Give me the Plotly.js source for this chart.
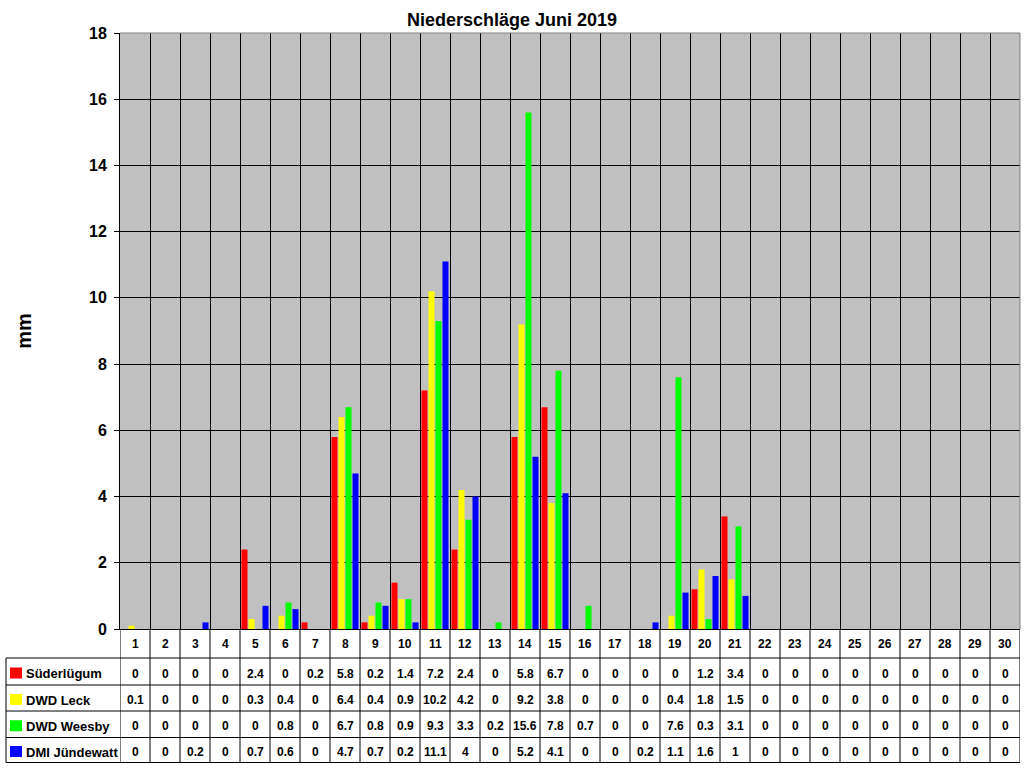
<!DOCTYPE html>
<html>
<head>
<meta charset="utf-8">
<script src="https://cdn.plot.ly/plotly-3.0.1.min.js"></script>
<style>
  body { margin: 0; background: #fff; }
  #chart { width: 1024px; height: 768px; }
</style>
</head>
<body>
<div id="chart"></div>
<script>
// Tage im Juni
const days = [];
for (let d = 1; d <= 30; d++) days.push(d);

// Niederschlag in mm je Station
const suederluegum = [0, 0, 0, 0, 2.4, 0, 0.2, 5.8, 0.2, 1.4, 7.2, 2.4, 0, 5.8, 6.7, 0, 0, 0, 0, 1.2, 3.4, 0, 0, 0, 0, 0, 0, 0, 0, 0];
const dwdLeck = [0.1, 0, 0, 0, 0.3, 0.4, 0, 6.4, 0.4, 0.9, 10.2, 4.2, 0, 9.2, 3.8, 0, 0, 0, 0.4, 1.8, 1.5, 0, 0, 0, 0, 0, 0, 0, 0, 0];
const dwdWeesby = [0, 0, 0, 0, 0, 0.8, 0, 6.7, 0.8, 0.9, 9.3, 3.3, 0.2, 15.6, 7.8, 0.7, 0, 0, 7.6, 0.3, 3.1, 0, 0, 0, 0, 0, 0, 0, 0, 0];
const dmiJuendewatt = [0, 0, 0.2, 0, 0.7, 0.6, 0, 4.7, 0.7, 0.2, 11.1, 4, 0, 5.2, 4.1, 0, 0, 0.2, 1.1, 1.6, 1, 0, 0, 0, 0, 0, 0, 0, 0, 0];

const stationNames = ["Süderlügum", "DWD Leck", "DWD Weesby", "DMI Jündewatt"];
const stationColors = ["#ff0000", "#ffff00", "#00ff00", "#0000ff"];
const stationValues = [suederluegum, dwdLeck, dwdWeesby, dmiJuendewatt];

const FONT = "Liberation Sans, Arial, sans-serif";

// Pixel -> paper (Plotbereich von y=33 bis y=629)
const plotBottom = 629, plotH = 596;
const py = (Y) => (plotBottom - Y) / plotH;
const px = (X) => (X - 120) / 900;

let data = [];
for (let i = 0; i < stationNames.length; i++) {
  data.push({
    x: days,
    y: stationValues[i],
    type: "bar",
    name: stationNames[i],
    marker: { color: stationColors[i], line: { width: 0 } },
    hoverinfo: "x+y+name"
  });
}

let annotations = [];
let shapes = [];

// Kopfzeile mit Tagen
for (let d of days) {
  annotations.push({
    x: d, y: py(644), xref: "x", yref: "paper",
    xanchor: "center", yanchor: "middle",
    text: String(d), showarrow: false,
    font: { family: FONT, size: 12, color: "#000", weight: "bold" }
  });
}

// Datenzeilen
const rowLines = [658, 685, 711, 737.5, 762.5];
for (let i = 0; i < stationNames.length; i++) {
  let cy = (rowLines[i] + rowLines[i + 1]) / 2 + 2;
  annotations.push({
    x: px(24), y: py(cy), xref: "paper", yref: "paper",
    xanchor: "left", yanchor: "middle", text: stationNames[i], showarrow: false,
    font: { family: FONT, size: 13, color: "#000", weight: "bold" }
  });
  shapes.push({
    type: "rect", xref: "paper", yref: "paper",
    x0: px(10), x1: px(22), y0: py(cy - 6), y1: py(cy + 5),
    fillcolor: stationColors[i], line: { width: 0 }
  });
  for (let j = 0; j < days.length; j++) {
    annotations.push({
      x: days[j], y: py(cy), xref: "x", yref: "paper",
      xanchor: "center", yanchor: "middle",
      text: String(stationValues[i][j]), showarrow: false,
      font: { family: FONT, size: 12, color: "#000", weight: "bold" }
    });
  }
}

// Tabellenlinien
for (let Y of rowLines) {
  shapes.push({
    type: "line", xref: "paper", yref: "paper",
    x0: px(6), x1: 1, y0: py(Y), y1: py(Y),
    line: { color: "#000", width: 1 }
  });
}
shapes.push({
  type: "line", xref: "paper", yref: "paper",
  x0: px(6), x1: px(6), y0: py(658), y1: py(762.5),
  line: { color: "#000", width: 1 }
});
for (let d = 0; d <= days.length; d++) {
  shapes.push({
    type: "line", xref: "x", yref: "paper",
    x0: d + 0.5, x1: d + 0.5, y0: 0, y1: py(762.5),
    line: { color: "#000", width: 1 }
  });
}
// Rahmen oben/rechts
shapes.push({
  type: "line", xref: "paper", yref: "paper",
  x0: 0, x1: 1, y0: 1, y1: 1, line: { color: "#808080", width: 1 }
});
shapes.push({
  type: "line", xref: "paper", yref: "paper",
  x0: 1, x1: 1, y0: 0, y1: 1, line: { color: "#808080", width: 1 }
});

const halfTicks = [];
for (let d = 0; d <= days.length; d++) halfTicks.push(d + 0.5);

const layout = {
  width: 1024,
  height: 768,
  margin: { l: 120, r: 4, t: 33, b: 139 },
  paper_bgcolor: "#ffffff",
  plot_bgcolor: "#c0c0c0",
  showlegend: false,
  barmode: "group",
  bargap: 0.067,
  bargroupgap: 0.14,
  title: {
    text: "Niederschläge Juni 2019",
    x: 0.5, xanchor: "center", y: 0.974, yanchor: "middle",
    font: { family: FONT, size: 18, color: "#000", weight: "bold" }
  },
  xaxis: {
    range: [0.5, 30.5],
    tickvals: halfTicks,
    showticklabels: false,
    ticks: "",
    showgrid: true,
    gridcolor: "#000",
    gridwidth: 1,
    zeroline: false,
    showline: true,
    linecolor: "#000",
    fixedrange: true
  },
  yaxis: {
    range: [0, 18],
    dtick: 2,
    tick0: 0,
    ticks: "outside",
    ticklen: 5,
    tickcolor: "#000",
    ticklabelstandoff: 4,
    showgrid: true,
    gridcolor: "#000",
    gridwidth: 1,
    zeroline: false,
    showline: true,
    linecolor: "#000",
    tickfont: { family: FONT, size: 16, color: "#000", weight: "bold" },
    title: {
      text: "mm",
      standoff: 52,
      font: { family: FONT, size: 20, color: "#000", weight: "bold" }
    },
    fixedrange: true
  },
  annotations: annotations,
  shapes: shapes
};

Plotly.newPlot("chart", data, layout, { displayModeBar: false, staticPlot: true });
</script>
</body>
</html>
